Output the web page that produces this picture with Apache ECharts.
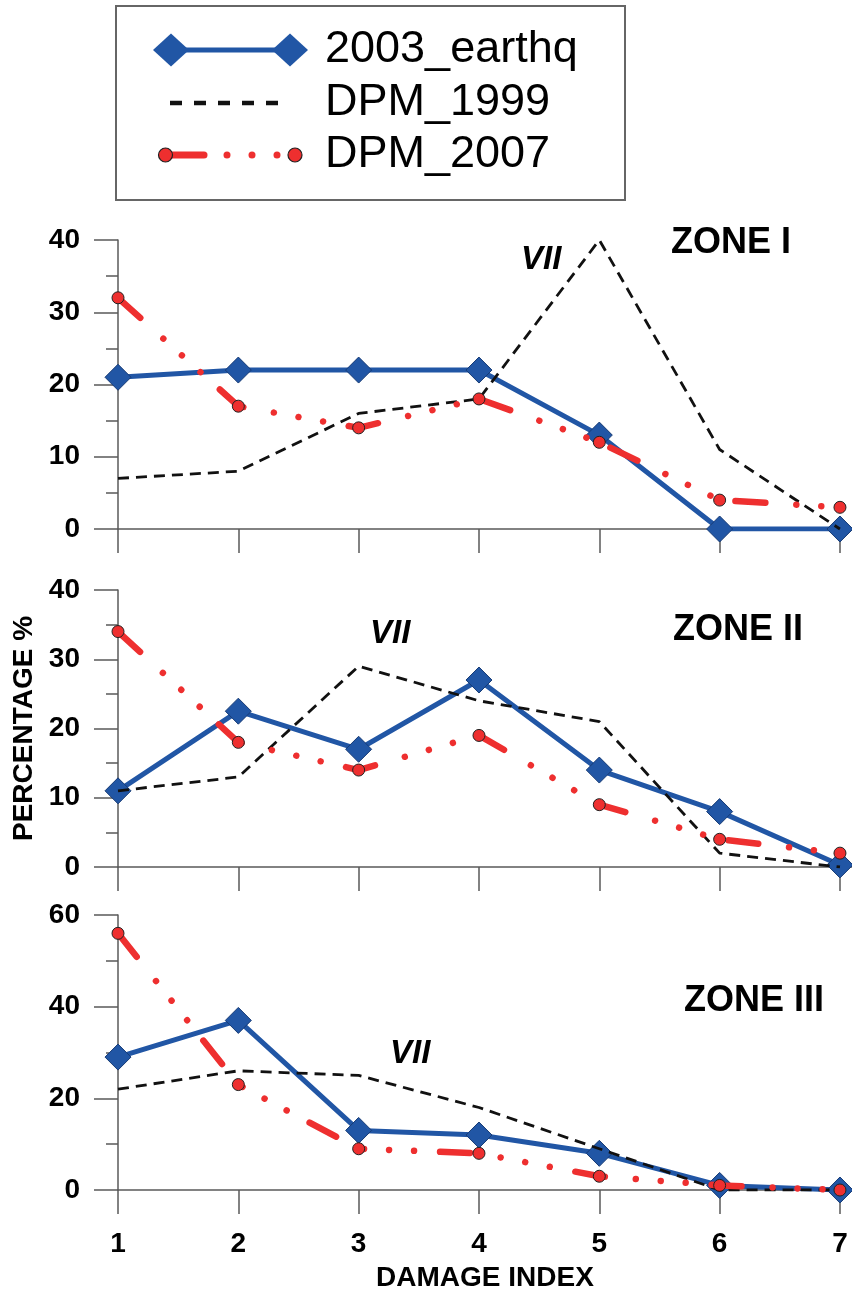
<!DOCTYPE html>
<html>
<head>
<meta charset="utf-8">
<script src="https://cdn.jsdelivr.net/npm/echarts@6/dist/echarts.min.js"></script>
<style>
  html, body { margin: 0; padding: 0; background: #fff; }
  #chart { width: 852px; height: 1293px; }
</style>
</head>
<body>
<div id="chart"></div>
<script>
// ---------------- data ----------------
const categories = [1, 2, 3, 4, 5, 6, 7];
const seriesNames = ['2003_earthq', 'DPM_1999', 'DPM_2007'];
const zoneNames = ['ZONE I', 'ZONE II', 'ZONE III'];

const zone1_2003 = [21, 22, 22, 22, 13, 0, 0];
const zone1_1999 = [7, 8, 16, 18, 40, 11, 0];
const zone1_2007 = [32, 17, 14, 18, 12, 4, 3];

const zone2_2003 = [11, 22.5, 17, 27, 14, 8, 0.3];
const zone2_1999 = [11, 13, 29, 24, 21, 2, 0];
const zone2_2007 = [34, 18, 14, 19, 9, 4, 2];

const zone3_2003 = [29, 37, 13, 12, 8, 1, 0];
const zone3_1999 = [22, 26, 25, 18, 9, 0, 0];
const zone3_2007 = [56, 23, 9, 8, 3, 1, 0];

const yTicks1 = [0, 10, 20, 30, 40];
const yTicks2 = [0, 10, 20, 30, 40];
const yTicks3 = [0, 20, 40, 60];

// ---------------- styles ----------------
const FONT = 'Liberation Sans, Arial, Helvetica, sans-serif';
const BLUE = '#2156a5';
const RED = '#ee2f2f';
const AXIS = '#5a5a5a';

const grids = [
  { left: 118, top: 240, width: 734, height: 289 },
  { left: 118, top: 590, width: 734, height: 277 },
  { left: 118, top: 915, width: 734, height: 277 }
];

function xAxisFor(i) {
  const last = i === 2;
  return {
    type: 'value', gridIndex: i, min: 1, max: 7.1,
    axisLine: { show: true, onZero: false, lineStyle: { color: AXIS, width: 1.5 } },
    axisTick: { show: true, length: 24, customValues: categories, lineStyle: { color: AXIS, width: 1.5 } },
    axisLabel: {
      show: last, customValues: categories, margin: 40,
      fontSize: 28, fontWeight: 'bold', color: '#000', fontFamily: FONT
    },
    splitLine: { show: false },
    name: last ? 'DAMAGE INDEX' : '',
    nameLocation: 'middle', nameGap: 74,
    nameTextStyle: { fontSize: 28, fontWeight: 'bold', color: '#000', fontFamily: FONT }
  };
}

function yAxisFor(i, ticks) {
  const step = ticks[1] - ticks[0];
  return {
    type: 'value', gridIndex: i, min: ticks[0], max: ticks[ticks.length - 1], interval: step,
    axisLine: { show: true, lineStyle: { color: AXIS, width: 1.5 } },
    axisTick: { show: true, length: 24, lineStyle: { color: AXIS, width: 1.5 } },
    minorTick: { show: true, splitNumber: 2, length: 12, lineStyle: { color: AXIS, width: 1.5 } },
    axisLabel: { margin: 38, fontSize: 28, fontWeight: 'bold', color: '#000', fontFamily: FONT },
    splitLine: { show: false },
    minorSplitLine: { show: false },
    name: i === 1 ? 'PERCENTAGE %' : '',
    nameLocation: 'middle', nameRotate: 90, nameGap: 78,
    nameTextStyle: { fontSize: 28, fontWeight: 'bold', color: '#000', fontFamily: FONT }
  };
}

function pairs(arr) { return categories.map((c, k) => [c, arr[k]]); }

function panelSeries(i, a2003, a1999, a2007) {
  return [
    {
      name: seriesNames[0], type: 'line', xAxisIndex: i, yAxisIndex: i, z: 2,
      data: pairs(a2003),
      symbol: 'diamond', symbolSize: [26, 26],
      lineStyle: { color: BLUE, width: 5 },
      itemStyle: { color: BLUE, borderColor: '#173b75', borderWidth: 1 }
    },
    {
      name: seriesNames[1], type: 'line', xAxisIndex: i, yAxisIndex: i, z: 3,
      data: pairs(a1999),
      symbol: 'none',
      lineStyle: { color: '#111', width: 2.8, type: [11, 7] }
    },
    {
      name: seriesNames[2], type: 'line', xAxisIndex: i, yAxisIndex: i, z: 4,
      data: pairs(a2007),
      symbol: 'circle', symbolSize: 12,
      lineStyle: { color: RED, width: 6.5, cap: 'round', type: [30, 31, 0.01, 25, 0.01, 25, 0.01, 26] },
      itemStyle: { color: RED, borderColor: '#222', borderWidth: 1 }
    }
  ];
}

// ---------------- legend & annotations (graphic) ----------------
const legendGraphic = [
  { type: 'rect', shape: { x: 116, y: 6, width: 509, height: 194 },
    style: { fill: '#fff', stroke: '#666', lineWidth: 2 }, z: 10 },
  // row 1
  { type: 'line', shape: { x1: 171, y1: 50, x2: 290, y2: 50 }, style: { stroke: BLUE, lineWidth: 5 }, z: 11 },
  { type: 'polygon', shape: { points: [[153, 50], [171, 33.5], [189, 50], [171, 66.5]] }, style: { fill: BLUE }, z: 12 },
  { type: 'polygon', shape: { points: [[272, 50], [290, 33.5], [308, 50], [290, 66.5]] }, style: { fill: BLUE }, z: 12 },
  { type: 'text', x: 325, y: 50, style: { text: seriesNames[0], font: '45px ' + FONT, fill: '#000', textVerticalAlign: 'middle' }, z: 12 },
  // row 2
  { type: 'line', shape: { x1: 170, y1: 103, x2: 278, y2: 103 }, style: { stroke: '#111', lineWidth: 4.5, lineDash: [12, 12] }, z: 11 },
  { type: 'text', x: 325, y: 103, style: { text: seriesNames[1], font: '45px ' + FONT, fill: '#000', textVerticalAlign: 'middle' }, z: 12 },
  // row 3
  { type: 'line', shape: { x1: 170, y1: 155, x2: 204, y2: 155 }, style: { stroke: RED, lineWidth: 7, lineCap: 'round' }, z: 11 },
  { type: 'circle', shape: { cx: 227, cy: 155, r: 3.5 }, style: { fill: RED }, z: 11 },
  { type: 'circle', shape: { cx: 252, cy: 155, r: 3.5 }, style: { fill: RED }, z: 11 },
  { type: 'circle', shape: { cx: 277, cy: 155, r: 3.5 }, style: { fill: RED }, z: 11 },
  { type: 'circle', shape: { cx: 165.5, cy: 155, r: 7 }, style: { fill: RED, stroke: '#222', lineWidth: 1.2 }, z: 12 },
  { type: 'circle', shape: { cx: 295, cy: 155, r: 7 }, style: { fill: RED, stroke: '#222', lineWidth: 1.2 }, z: 12 },
  { type: 'text', x: 325, y: 155, style: { text: seriesNames[2], font: '45px ' + FONT, fill: '#000', textVerticalAlign: 'middle' }, z: 12 }
];

function label(text, x, y, italic) {
  return {
    type: 'text', x: x, y: y, z: 20,
    style: {
      text: text, fill: '#000', textVerticalAlign: 'middle',
      font: (italic ? 'italic ' : '') + 'bold ' + (italic ? '33px ' : '36px ') + FONT
    }
  };
}

const annotations = [
  label(zoneNames[0], 671, 243, false),
  label('VII', 521, 260, true),
  label(zoneNames[1], 673, 630, false),
  label('VII', 370, 634, true),
  label(zoneNames[2], 684, 1001, false),
  label('VII', 390, 1054, true)
];

// ---------------- chart ----------------
const chart = echarts.init(document.getElementById('chart'), null, { renderer: 'canvas' });
chart.setOption({
  animation: false,
  backgroundColor: '#fff',
  textStyle: { fontFamily: FONT },
  grid: grids,
  xAxis: [xAxisFor(0), xAxisFor(1), xAxisFor(2)],
  yAxis: [yAxisFor(0, yTicks1), yAxisFor(1, yTicks2), yAxisFor(2, yTicks3)],
  series: [].concat(
    panelSeries(0, zone1_2003, zone1_1999, zone1_2007),
    panelSeries(1, zone2_2003, zone2_1999, zone2_2007),
    panelSeries(2, zone3_2003, zone3_1999, zone3_2007)
  ),
  graphic: legendGraphic.concat(annotations)
});
</script>
</body>
</html>
